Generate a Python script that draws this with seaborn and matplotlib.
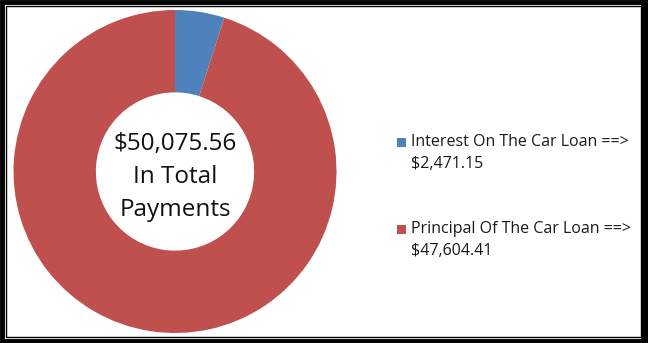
import matplotlib
matplotlib.use("Agg")
import matplotlib.pyplot as plt
import seaborn as sns
from matplotlib.patches import Rectangle

categories = ["Interest On The Car Loan", "Principal Of The Car Loan"]
amounts = [2471.15, 47604.41]
colors = ["#4F81BD", "#C0504D"]
total_label = ["$50,075.56", "In Total", "Payments"]

sns.set_theme(style="white")
plt.rcParams['font.family'] = ['Open Sans', 'DejaVu Sans']

W, H = 648, 343
fig = plt.figure(figsize=(W / 100, H / 100), dpi=100)

cx, cy, r = 175, 171.5, 161.5
ax = fig.add_axes([(cx - r) / W, (H - cy - r) / H, 2 * r / W, 2 * r / H])
wedges, _ = ax.pie(amounts, colors=colors, startangle=90, counterclock=False,
                   radius=1, wedgeprops=dict(width=0.51, edgecolor="none"))
ax.set_xlim(-1, 1)
ax.set_ylim(-1, 1)
ax.set_aspect("equal")
ax.axis("off")
ax.text(0, -0.035, "\n".join(total_label), ha="center", va="center",
        fontsize=17.5, linespacing=1.5, color="#111111")

# legend (drawn manually so the marker sits on the first line)
rows_y = [142, 229]
for cat, val, col, y in zip(categories, amounts, colors, rows_y):
    fig.patches.append(Rectangle((397 / W, 1 - (y + 5) / H), 9 / W, 9 / H,
                                 transform=fig.transFigure, facecolor=col, edgecolor="none"))
    fig.text(411 / W, 1 - y / H, f"{cat} ==>", ha="left", va="center",
             fontsize=11.5, color="#1a1a1a")
    fig.text(411 / W, 1 - (y + 22) / H, f"${val:,.2f}", ha="left", va="center",
             fontsize=11.5, color="#1a1a1a")

# frame
fig.patches.append(Rectangle((1.5 / W, 2 / H), (W - 6) / W, (H - 4) / H, transform=fig.transFigure,
                             fill=False, edgecolor="black", linewidth=3.5))
fig.patches.append(Rectangle((5.5 / W, 6 / H), (W - 13) / W, (H - 12) / H, transform=fig.transFigure,
                             fill=False, edgecolor="black", linewidth=1))
fig.patches.append(Rectangle((641 / W, 0), 7 / W, 1, transform=fig.transFigure,
                             fill=True, facecolor="black", edgecolor="none"))

fig.savefig("out.png", dpi=100)
